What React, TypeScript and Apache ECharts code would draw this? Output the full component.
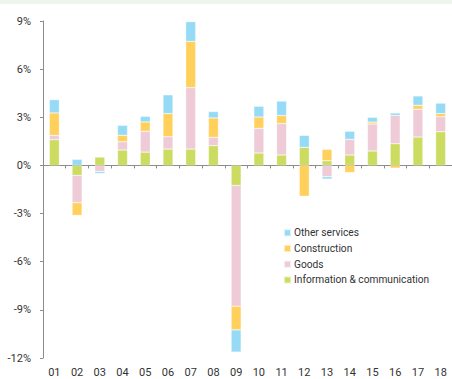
import React, { useEffect, useRef } from "react";
import * as echarts from "echarts";

const categories = ["01","02","03","04","05","06","07","08","09","10","11","12","13","14","15","16","17","18"];
const infoComm = [1.6, -0.62, 0.52, 0.96, 0.83, 1.02, 1.02, 1.23, -1.25, 0.77, 0.65, 1.12, 0.29, 0.65, 0.9, 1.35, 1.77, 2.1];
const goods = [0.27, -1.7, -0.38, 0.52, 1.3, 0.77, 3.83, 0.52, -7.52, 1.54, 1.96, 0, -0.7, 0.98, 1.68, 1.77, 1.73, 0.94];
const construction = [1.4, -0.79, 0, 0.4, 0.58, 1.44, 2.88, 1.21, -1.48, 0.71, 0.5, -1.92, 0.71, -0.44, 0.12, -0.17, 0.25, 0.19];
const otherServices = [0.83, 0.38, -0.12, 0.62, 0.35, 1.17, 1.23, 0.4, -1.38, 0.67, 0.9, 0.75, -0.15, 0.5, 0.3, 0.15, 0.58, 0.65];
const legendOrder = ["Other services", "Construction", "Goods", "Information & communication"];

const COLORS = {
  ic: "#cbdc60",
  goods: "#eecbd7",
  cons: "#ffd05c",
  other: "#96dbf6",
};

export default function App() {
  const ref = useRef<HTMLDivElement>(null);
  useEffect(() => {
    if (!ref.current) return;
    const chart = echarts.init(ref.current, undefined, { renderer: "svg" });
    const labelFont = { fontFamily: "Roboto", fontSize: 11, color: "#333" };
    const mk = (name: string, data: number[], color: string) => ({
      name,
      type: "bar",
      stack: "total",
      data,
      barWidth: 10,
      xAxisIndex: 0,
      itemStyle: { color, borderColor: "rgba(255,255,255,0.6)", borderWidth: 0.5 },
    });
    chart.setOption({
      animation: false,
      backgroundColor: "#fff",
      graphic: [
        { type: "rect", left: 0, top: 0, shape: { width: 452, height: 4 }, style: { fill: "#eef5ec" }, z: 0 },
      ],
      grid: { left: 43, top: 21, bottom: 21, width: 412 },
      legend: {
        orient: "vertical",
        left: 278,
        top: 220,
        itemWidth: 7,
        itemHeight: 7,
        itemGap: 0,
        icon: "rect",
        data: legendOrder,
        textStyle: { fontFamily: "Roboto", fontSize: 10.2, color: "#333", lineHeight: 15.7, padding: [0, 0, 0, -2] },
      },
      xAxis: [
        {
          type: "category",
          data: categories,
          axisLine: { onZero: true, lineStyle: { color: "#8c8c8c", width: 1 } },
          axisTick: { show: true, length: 3, lineStyle: { color: "#8c8c8c" } },
          axisLabel: { show: false },
          splitLine: { show: false },
        },
        {
          type: "category",
          data: categories,
          position: "bottom",
          axisLine: { show: false },
          axisTick: { show: false },
          axisLabel: { ...labelFont, margin: 9 },
          splitLine: { show: false },
        },
      ],
      yAxis: {
        type: "value",
        min: -12,
        max: 9,
        interval: 3,
        axisLine: { show: true, lineStyle: { color: "#8c8c8c", width: 1 } },
        axisTick: { show: true, length: 3, lineStyle: { color: "#8c8c8c" } },
        axisLabel: { ...labelFont, margin: 12, formatter: (v: number) => `${v}%` },
        splitLine: { show: false },
      },
      series: [
        mk("Information & communication", infoComm, COLORS.ic),
        mk("Goods", goods, COLORS.goods),
        mk("Construction", construction, COLORS.cons),
        mk("Other services", otherServices, COLORS.other),
      ],
    });
    return () => chart.dispose();
  }, []);
  return (
    <div
      ref={ref}
      style={{ position: "fixed", left: 0, top: 0, width: 452, height: 379 }}
    />
  );
}
